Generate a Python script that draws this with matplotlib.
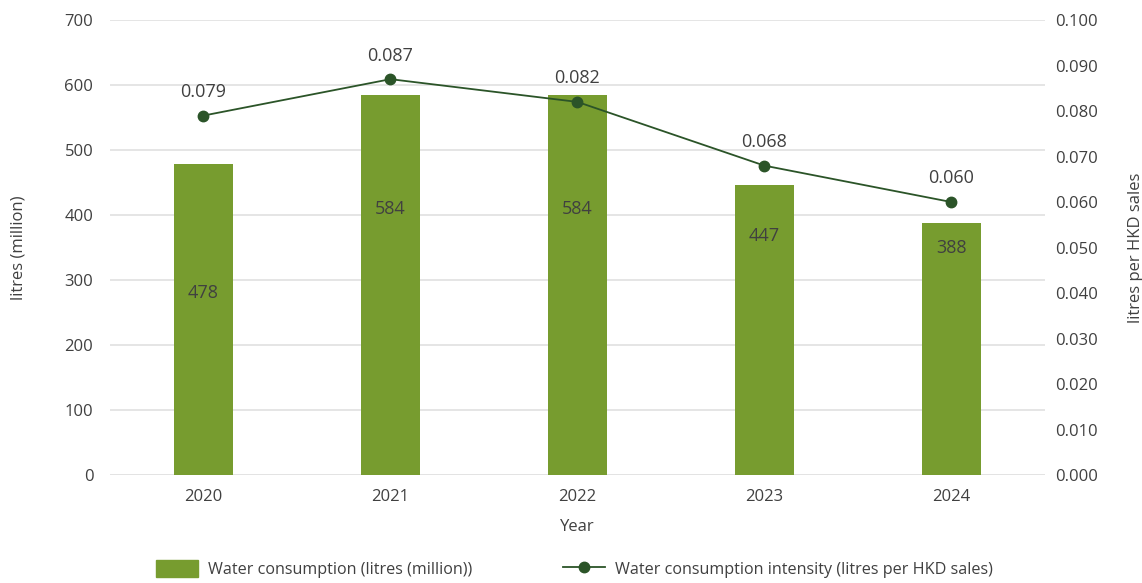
import matplotlib.pyplot as plt
from matplotlib.lines import Line2D
from matplotlib.patches import Patch

plt.rcParams['font.family'] = ['Open Sans', 'DejaVu Sans']

# данные
years = ['2020', '2021', '2022', '2023', '2024']
consumption = [478, 584, 584, 447, 388]
intensity = [0.079, 0.087, 0.082, 0.068, 0.060]
# где стоят подписи внутри столбцов (в единицах левой оси)
bar_label_y = [280, 409, 409, 368, 349]

bar_color = '#779C2F'
line_color = '#2B5428'
text_color = '#404040'
grid_color = '#E3E3E3'

fig = plt.figure(figsize=(11.42, 5.83), dpi=100)
ax = fig.add_axes([0.0963, 0.185, 0.8187, 0.7807])
ax2 = ax.twinx()

x = list(range(len(years)))
ax.bar(x, consumption, width=0.32, color=bar_color, zorder=2)
for xi, v, ly in zip(x, consumption, bar_label_y):
    ax.text(xi, ly, str(v), ha='center', va='center', fontsize=13, color=text_color, zorder=3)

ax2.plot(x, intensity, color=line_color, linewidth=1.3, marker='o', markersize=7.5, zorder=3)
for xi, v in zip(x, intensity):
    ax2.annotate(f'{v:.3f}', (xi, v), xytext=(0, 17), textcoords='offset points',
                 ha='center', va='center', fontsize=13, color=text_color)

ax.set_xlim(-0.5, 4.5)
ax.set_ylim(0, 700)
ax.set_yticks(range(0, 701, 100))
ax2.set_ylim(0, 0.1)
ax2.set_yticks([i / 100 for i in range(11)])
ax2.set_yticklabels([f'{i / 100:.3f}' for i in range(11)])

ax.set_xticks(x)
ax.set_xticklabels(years)
ax.yaxis.grid(True, color=grid_color, linewidth=1.3, zorder=0)
ax.set_axisbelow(True)

for a in (ax, ax2):
    for s in a.spines.values():
        s.set_visible(False)
    a.tick_params(length=0, labelsize=12, labelcolor=text_color)
ax.tick_params(axis='y', pad=12)
ax.tick_params(axis='x', pad=10)
ax2.tick_params(axis='y', pad=7)
ax.axhline(0, color=grid_color, linewidth=1.3, zorder=1)

ax.set_xlabel('Year', fontsize=12, color=text_color, labelpad=10)
ax.set_ylabel('litres (million)', fontsize=12, color=text_color, labelpad=27)
ax2.set_ylabel('litres per HKD sales', fontsize=12, color=text_color, labelpad=22)

handles = [Patch(color=bar_color),
           Line2D([0], [0], color=line_color, linewidth=1.3, marker='o', markersize=7.5)]
labels = ['Water consumption (litres (million))', 'Water consumption intensity (litres per HKD sales)']
leg = fig.legend(handles, labels, loc='center', bbox_to_anchor=(0.503, 0.024), ncol=2,
                 frameon=False, fontsize=11.6, columnspacing=5.6, handlelength=2.6,
                 handleheight=1.2, handletextpad=0.65)
for t in leg.get_texts():
    t.set_color(text_color)

fig.savefig('out.png', dpi=100)
